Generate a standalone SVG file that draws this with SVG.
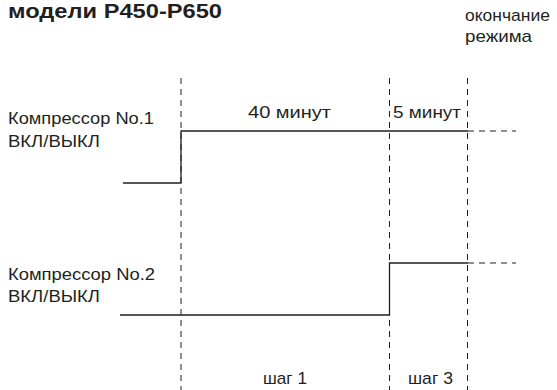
<svg xmlns="http://www.w3.org/2000/svg" width="557" height="390" viewBox="0 0 557 390">
<style>
text{font-family:"Liberation Sans",Arial,sans-serif;fill:#231f20;font-size:17px}
.title{font-weight:bold;font-size:20px}
.sig{fill:none;stroke:#231f20;stroke-width:1.3}
.dash{fill:none;stroke:#231f20;stroke-width:1;stroke-dasharray:6 5}
</style>
<rect width="557" height="390" fill="#fff"/>
<text class="title" x="8" y="18.2" textLength="214" lengthAdjust="spacingAndGlyphs">модели P450-P650</text>
<g id="end-label"><text x="465" y="21" textLength="85" lengthAdjust="spacingAndGlyphs">окончание</text><text x="465" y="42" textLength="67" lengthAdjust="spacingAndGlyphs">режима</text></g>
<g id="grid">
<line class="dash" x1="181" y1="78" x2="181" y2="390"/>
<line class="dash" x1="389.5" y1="78" x2="389.5" y2="390"/>
<line class="dash" x1="467.5" y1="78" x2="467.5" y2="390"/>
</g>
<g id="comp1">
<text x="8" y="124" textLength="146" lengthAdjust="spacingAndGlyphs">Компрессор No.1</text><text x="8" y="146.5" textLength="92" lengthAdjust="spacingAndGlyphs">ВКЛ/ВЫКЛ</text>
</g>
<g id="comp2">
<text x="8" y="280" textLength="147" lengthAdjust="spacingAndGlyphs">Компрессор No.2</text><text x="8" y="302" textLength="92" lengthAdjust="spacingAndGlyphs">ВКЛ/ВЫКЛ</text>
</g>
<g id="connectors">
<polyline class="sig" points="123,183 181,183 181,131 468,131"/>
<line class="dash" x1="468" y1="131" x2="516" y2="131"/>
<polyline class="sig" points="120,315 389.5,315 389.5,263 468,263"/>
<line class="dash" x1="468" y1="263" x2="516" y2="263"/>
</g>
<g id="labels">
<text x="248" y="118" textLength="83" lengthAdjust="spacingAndGlyphs">40 минут</text>
<text x="393" y="118" textLength="68" lengthAdjust="spacingAndGlyphs">5 минут</text>
<text x="263" y="384" textLength="44" lengthAdjust="spacingAndGlyphs">шаг 1</text>
<text x="408" y="384" textLength="45" lengthAdjust="spacingAndGlyphs">шаг 3</text>
</g>
</svg>
